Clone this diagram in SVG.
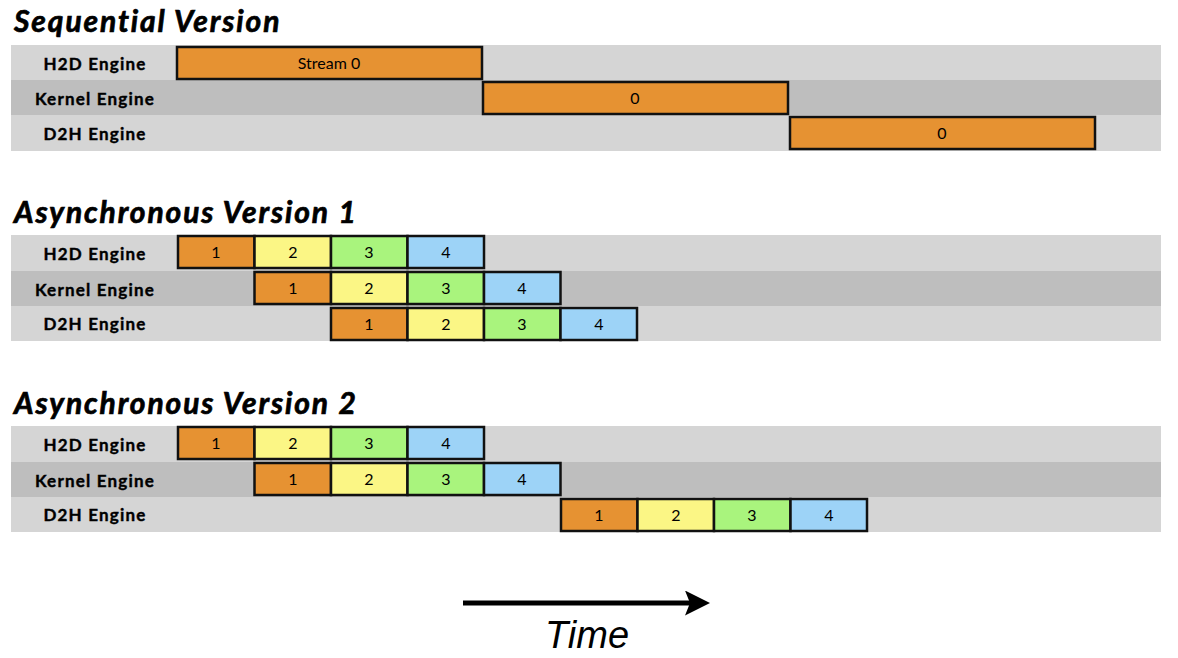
<svg xmlns="http://www.w3.org/2000/svg" width="1178" height="658" viewBox="0 0 1178 658">
<style>
.bg{fill:#ffffff}
.bl{fill:#d5d5d5}
.bd{fill:#bebebe}
.title{font-family:Lato,"Open Sans",sans-serif;font-weight:bold;font-style:italic;font-size:30px;letter-spacing:1.9px;fill:#000;stroke:#000;stroke-width:0.7px}
.lab{font-family:Lato,"Open Sans",sans-serif;font-weight:bold;font-size:17px;letter-spacing:1.2px;fill:#000;stroke:#000;stroke-width:0.4px;text-anchor:middle}
.box{stroke:#111;stroke-width:2.5}
.num{font-family:Lato,"Open Sans",sans-serif;font-size:16px;fill:#000;text-anchor:middle}
.o{fill:#e69232}.y{fill:#fbf685}.g{fill:#a9f47d}.b{fill:#9dd3f7}
</style>
<defs>
<marker id="ah" viewBox="0 0 10 10" refX="2" refY="5" markerWidth="5" markerHeight="5" orient="auto" markerUnits="strokeWidth">
<path d="M0,0 L10,5 L0,10 L2,5 Z" fill="#000"/>
</marker>
</defs>
<rect class="bg" x="0" y="0" width="1178" height="658"/>

<g id="sequential">
<text class="title" x="14" y="32">Sequential Version</text>
<rect class="bl" x="11" y="45" width="1150" height="35"/>
<rect class="bd" x="11" y="80" width="1150" height="35"/>
<rect class="bl" x="11" y="115" width="1150" height="36"/>
<text class="lab" x="95" y="70">H2D Engine</text>
<text class="lab" x="95" y="105">Kernel Engine</text>
<text class="lab" x="95" y="140">D2H Engine</text>
</g>
<g id="seq-h2d"><rect class="box o" x="177" y="47" width="305" height="32"/><text class="num" x="329" y="69">Stream 0</text></g>
<g id="seq-kernel"><rect class="box o" x="483" y="82" width="305" height="32"/><text class="num" x="635" y="104">0</text></g>
<g id="seq-d2h"><rect class="box o" x="790" y="117" width="305" height="32"/><text class="num" x="942" y="139">0</text></g>

<g id="async1">
<text class="title" x="14" y="223">Asynchronous Version 1</text>
<rect class="bl" x="11" y="235" width="1150" height="36"/>
<rect class="bd" x="11" y="271" width="1150" height="35"/>
<rect class="bl" x="11" y="306" width="1150" height="35"/>
<text class="lab" x="95" y="260">H2D Engine</text>
<text class="lab" x="95" y="296">Kernel Engine</text>
<text class="lab" x="95" y="330">D2H Engine</text>
</g>
<g id="a1-h2d">
<rect class="box o" x="178" y="236" width="76.5" height="32"/><text class="num" x="216" y="258">1</text>
<rect class="box y" x="254.5" y="236" width="76.5" height="32"/><text class="num" x="293" y="258">2</text>
<rect class="box g" x="331" y="236" width="76.5" height="32"/><text class="num" x="369" y="258">3</text>
<rect class="box b" x="407.5" y="236" width="76.5" height="32"/><text class="num" x="446" y="258">4</text>
</g>
<g id="a1-kernel">
<rect class="box o" x="254.5" y="272" width="76.5" height="32"/><text class="num" x="293" y="294">1</text>
<rect class="box y" x="331" y="272" width="76.5" height="32"/><text class="num" x="369" y="294">2</text>
<rect class="box g" x="407.5" y="272" width="76.5" height="32"/><text class="num" x="446" y="294">3</text>
<rect class="box b" x="484" y="272" width="76.5" height="32"/><text class="num" x="522" y="294">4</text>
</g>
<g id="a1-d2h">
<rect class="box o" x="331" y="308" width="76.5" height="32"/><text class="num" x="369" y="330">1</text>
<rect class="box y" x="407.5" y="308" width="76.5" height="32"/><text class="num" x="446" y="330">2</text>
<rect class="box g" x="484" y="308" width="76.5" height="32"/><text class="num" x="522" y="330">3</text>
<rect class="box b" x="560.5" y="308" width="76.5" height="32"/><text class="num" x="599" y="330">4</text>
</g>

<g id="async2">
<text class="title" x="14" y="414">Asynchronous Version 2</text>
<rect class="bl" x="11" y="426" width="1150" height="36"/>
<rect class="bd" x="11" y="462" width="1150" height="35"/>
<rect class="bl" x="11" y="497" width="1150" height="35"/>
<text class="lab" x="95" y="451">H2D Engine</text>
<text class="lab" x="95" y="487">Kernel Engine</text>
<text class="lab" x="95" y="521">D2H Engine</text>
</g>
<g id="a2-h2d">
<rect class="box o" x="178" y="427" width="76.5" height="32"/><text class="num" x="216" y="449">1</text>
<rect class="box y" x="254.5" y="427" width="76.5" height="32"/><text class="num" x="293" y="449">2</text>
<rect class="box g" x="331" y="427" width="76.5" height="32"/><text class="num" x="369" y="449">3</text>
<rect class="box b" x="407.5" y="427" width="76.5" height="32"/><text class="num" x="446" y="449">4</text>
</g>
<g id="a2-kernel">
<rect class="box o" x="254.5" y="463" width="76.5" height="32"/><text class="num" x="293" y="485">1</text>
<rect class="box y" x="331" y="463" width="76.5" height="32"/><text class="num" x="369" y="485">2</text>
<rect class="box g" x="407.5" y="463" width="76.5" height="32"/><text class="num" x="446" y="485">3</text>
<rect class="box b" x="484" y="463" width="76.5" height="32"/><text class="num" x="522" y="485">4</text>
</g>
<g id="a2-d2h">
<rect class="box o" x="561" y="499" width="76.5" height="32"/><text class="num" x="599" y="521">1</text>
<rect class="box y" x="637.5" y="499" width="76.5" height="32"/><text class="num" x="676" y="521">2</text>
<rect class="box g" x="714" y="499" width="76.5" height="32"/><text class="num" x="752" y="521">3</text>
<rect class="box b" x="790.5" y="499" width="76.5" height="32"/><text class="num" x="829" y="521">4</text>
</g>

<g id="connectors">
<line x1="463" y1="603" x2="690" y2="603" stroke="#000" stroke-width="5" marker-end="url(#ah)"/>
</g>
<g id="time-label">
<text x="587" y="648" font-family="'Liberation Sans',Arial,sans-serif" font-style="italic" font-size="38" text-anchor="middle" fill="#000">Time</text>
</g>
</svg>
